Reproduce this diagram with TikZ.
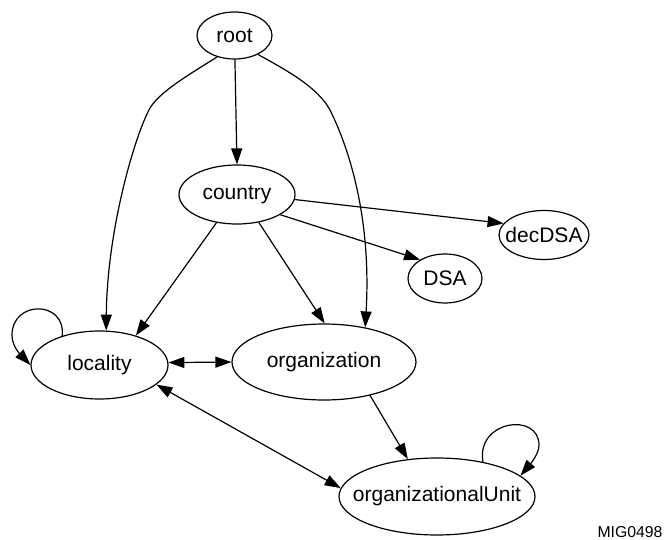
\documentclass[tikz,border=0pt]{standalone}
\usepackage{fontspec}
\setmainfont{Liberation Sans}
\usetikzlibrary{shapes.geometric,arrows.meta}
\tikzset{
  gnode/.style={draw, ellipse, line width=1.2pt, inner sep=0pt},
  gtxt/.style={font=\fontsize{21}{25}\selectfont},
  gedge/.style={line width=1.2pt, -{Triangle[length=16pt,width=11pt]}},
  gboth/.style={line width=1.2pt, {Triangle[length=16pt,width=11pt]}-{Triangle[length=16pt,width=11pt]}},
}
\begin{document}
\begin{tikzpicture}[x=1pt,y=-1pt]
\useasboundingbox (0,0) rectangle (665,540);
\node[gnode, minimum width=75pt, minimum height=47pt, label={[gtxt]center:root}] (root) at (234.5,35.5) {};
\node[gnode, minimum width=116pt, minimum height=59pt, label={[gtxt]center:country}] (country) at (237,194.5) {};
\node[gnode, minimum width=90pt, minimum height=49pt, label={[gtxt]center:decDSA}] (decdsa) at (544,235) {};
\node[gnode, minimum width=74pt, minimum height=49pt, label={[gtxt]center:DSA}] (dsa) at (445,278.5) {};
\node[gnode, minimum width=137pt, minimum height=68pt, label={[gtxt]center:locality}] (loc) at (99.5,365) {};
\node[gnode, minimum width=184pt, minimum height=76pt, label={[gtxt]center:organization}] (org) at (324,362) {};
\node[gnode, minimum width=196pt, minimum height=77pt, label={[gtxt]center:organizationalUnit}] (ou) at (437,496.5) {};
\node[font=\fontsize{15.8}{18}\selectfont, anchor=base, inner sep=0pt] (mig) at (630,537.5) {MIG0498};

\draw[gedge] (root.-89) -- (country.north);
\draw[gedge] (root.231) .. controls (185,77) and (160,92) .. (150,108)
  .. controls (135,135) and (107,230) .. (loc.79);
\draw[gedge] (root.321) .. controls (290,72) and (318,88) .. (330,110)
  .. controls (345,140) and (372,210) .. (org.40);
\draw[gedge] (country.-5) -- (decdsa.164);
\draw[gedge] (country.-25) -- (dsa.143);
\draw[gedge] (country.234) -- (loc.39);
\draw[gedge] (country.308) -- (org.89);
\draw[gboth] (loc.2) -- (org.180);
\draw[gboth] (loc.-19) -- (ou.175);
\draw[gedge] (org.-36) -- (ou.128);
\draw[gedge] (loc.142) .. controls (66,300) and (12,300) .. (12,335)
  .. controls (12,346) and (20,354) .. (loc.180);
\draw[gedge] (ou.37.5) .. controls (476,420) and (539,412) .. (539,445)
  .. controls (539,453) and (532,462) .. (ou.14);
\end{tikzpicture}
\end{document}
